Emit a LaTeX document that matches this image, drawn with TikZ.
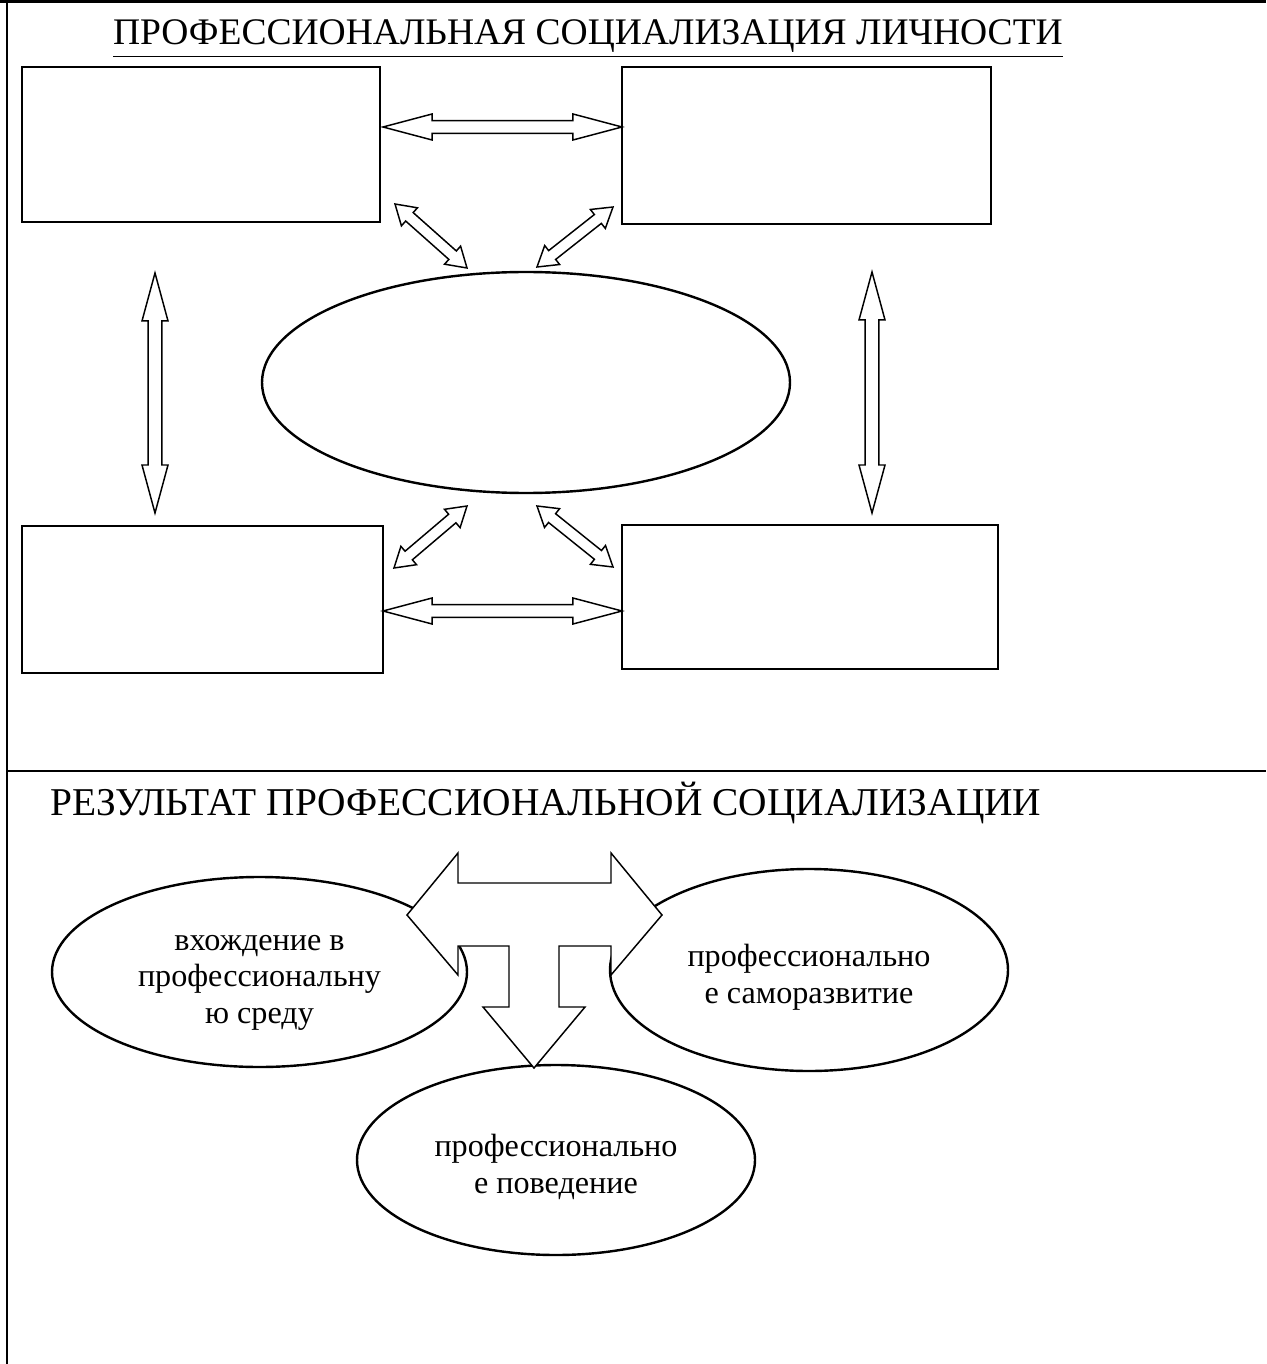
\documentclass[tikz,border=0pt]{standalone}
\usepackage{fontspec}
\setmainfont{Liberation Serif}
\usetikzlibrary{calc,shapes.geometric}

\newcommand{\pxu}{0.373pt}
% text lines set a little low in the oval, as in the source
\newcommand{\ovaltext}[1]{\raisebox{-2.8pt}[\height][\depth]{\begin{tabular}{@{}c@{}}#1\end{tabular}}}
% double arrow between two points: from, to, head length, head half width, shaft half width
\newcommand{\dblarrow}[5]{%
  \draw[arrowline] (#1)
    -- ($(#1)!#3!(#2)!#4!90:(#2)$)
    -- ($(#1)!#3!(#2)!#5!90:(#2)$)
    -- ($(#2)!#3!(#1)!#5!-90:(#1)$)
    -- ($(#2)!#3!(#1)!#4!-90:(#1)$)
    -- (#2)
    -- ($(#2)!#3!(#1)!#4!90:(#1)$)
    -- ($(#2)!#3!(#1)!#5!90:(#1)$)
    -- ($(#1)!#3!(#2)!#5!-90:(#2)$)
    -- ($(#1)!#3!(#2)!#4!-90:(#2)$)
    -- cycle;}

\begin{document}
\begin{tikzpicture}[x=0.373pt, y=-0.373pt,
    borderline/.style={line width=1pt},
    box/.style={draw, rectangle, line width=0.9pt, inner sep=0pt},
    oval/.style={draw, ellipse, line width=0.9pt, inner sep=0pt,
                 font=\fontsize{12}{13.6}\selectfont},
    heading/.style={anchor=base, font=\fontsize{14}{16}\selectfont},
    arrowline/.style={draw, fill=white, line width=0.55pt, line join=miter}]

    \useasboundingbox (0,0) rectangle (1266,1364);

    \draw[borderline] (0,1.5) -- (1266,1.5);
    \draw[borderline] (7,0) -- (7,1364);
    \draw[borderline] (7,771) -- (1266,771);

    \node[heading] (title1) at (588,45) {\underline{ПРОФЕССИОНАЛЬНАЯ СОЦИАЛИЗАЦИЯ ЛИЧНОСТИ}};

    \node[box, minimum width=358*\pxu, minimum height=155*\pxu] (tl) at (201,144.5) {};
    \node[box, minimum width=369*\pxu, minimum height=157*\pxu] (tr) at (806.5,145.5) {};
    \node[box, minimum width=361*\pxu, minimum height=147*\pxu] (bl) at (202.5,599.5) {};
    \node[box, minimum width=376*\pxu, minimum height=144*\pxu] (br) at (810,597) {};
    \node[oval, minimum width=528*\pxu, minimum height=221*\pxu] (core) at (526,382.5) {};

    \coordinate (h1a) at (383,127);
    \coordinate (h1b) at (622,127);
    \coordinate (h2a) at (383,611);
    \coordinate (h2b) at (622,611);
    \coordinate (v1a) at (155,273);
    \coordinate (v1b) at (155,513);
    \coordinate (v2a) at (872,272);
    \coordinate (v2b) at (872,513);
    \coordinate (d1a) at (395,204);
    \coordinate (d1b) at (467,268);
    \coordinate (d2a) at (613,207);
    \coordinate (d2b) at (537,267);
    \coordinate (d3a) at (467,506);
    \coordinate (d3b) at (394,568);
    \coordinate (d4a) at (537,506);
    \coordinate (d4b) at (613,567);

    \dblarrow{h1a}{h1b}{18.3pt}{4.85pt}{2.35pt}
    \dblarrow{h2a}{h2b}{18.3pt}{4.85pt}{2.35pt}
    \dblarrow{v1a}{v1b}{17.9pt}{4.85pt}{2.6pt}
    \dblarrow{v2a}{v2b}{17.9pt}{4.85pt}{2.6pt}
    \dblarrow{d1a}{d1b}{7.2pt}{4.5pt}{2.1pt}
    \dblarrow{d2a}{d2b}{7.2pt}{4.5pt}{2.1pt}
    \dblarrow{d3a}{d3b}{7.2pt}{4.5pt}{2.1pt}
    \dblarrow{d4a}{d4b}{7.2pt}{4.5pt}{2.1pt}

    \node[heading, font=\fontsize{14.7}{17}\selectfont] (title2) at (546,815)
        {РЕЗУЛЬТАТ ПРОФЕССИОНАЛЬНОЙ СОЦИАЛИЗАЦИИ};

    \node[oval, minimum width=415*\pxu, minimum height=190*\pxu] (entry) at (259.5,972)
        {\ovaltext{вхождение в\\профессиональну\\ю среду}};
    \node[oval, minimum width=398*\pxu, minimum height=202*\pxu] (selfdev) at (809,970)
        {\ovaltext{профессионально\\е саморазвитие}};
    \node[oval, minimum width=398*\pxu, minimum height=190*\pxu] (behave) at (556,1160)
        {\ovaltext{профессионально\\е поведение}};

    \draw[arrowline] (407,915) -- (458,853) -- (458,883) -- (611,883) -- (611,853)
        -- (662,915) -- (611,975) -- (611,946) -- (559,946) -- (559,1007)
        -- (585,1007) -- (534,1068) -- (483,1007) -- (509,1007) -- (509,946)
        -- (458,946) -- (458,975) -- cycle;

\end{tikzpicture}
\end{document}
